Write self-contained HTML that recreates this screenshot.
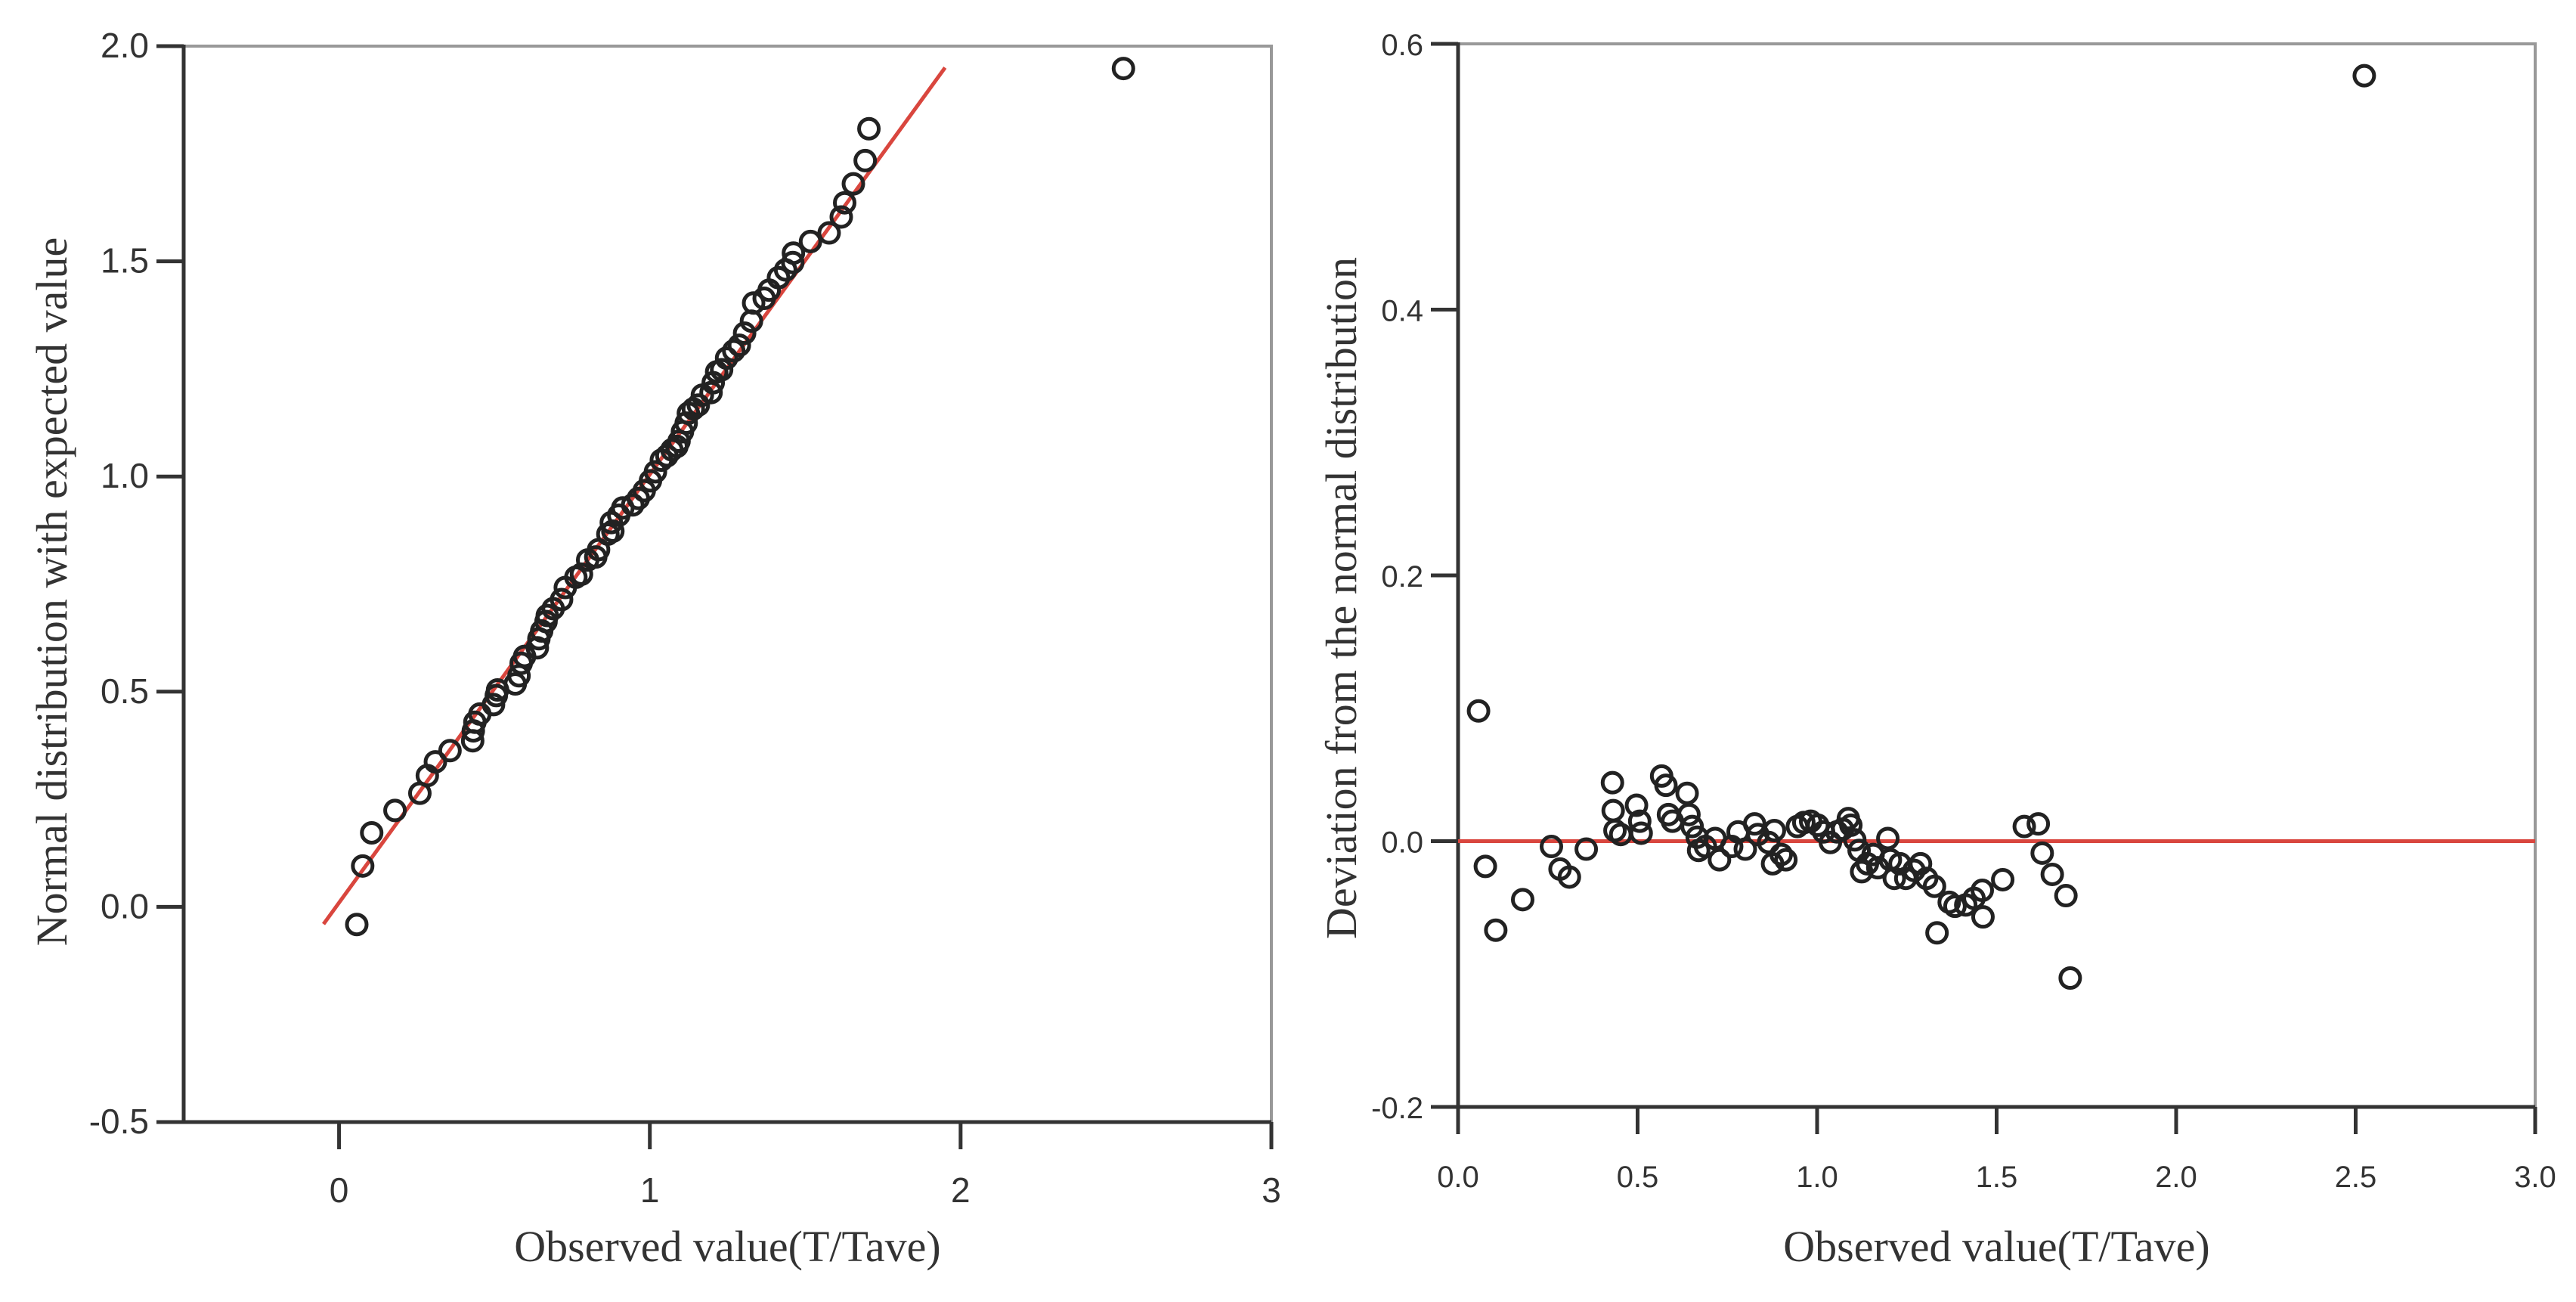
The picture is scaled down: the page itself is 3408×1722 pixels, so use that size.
<!DOCTYPE html>
<html><head><meta charset="utf-8"><style>
html,body{margin:0;padding:0;background:#fff;}
svg{display:block;}
</style></head><body>
<svg id="chart" width="3408" height="1722" viewBox="0 0 3408 1722" xmlns="http://www.w3.org/2000/svg">
<g id="left"></g>
<g id="right"></g>
</svg>
<script>
const observed = [0.057,0.076,0.105,0.18,0.26,0.284,0.31,0.357,0.43,0.432,0.437,0.453,0.497,0.506,0.51,0.567,0.579,0.586,0.597,0.638,0.643,0.652,0.666,0.67,0.689,0.716,0.728,0.762,0.78,0.8,0.826,0.835,0.865,0.876,0.881,0.9,0.913,0.945,0.963,0.982,1.002,1.018,1.037,1.055,1.071,1.087,1.094,1.105,1.117,1.124,1.14,1.156,1.169,1.197,1.204,1.215,1.231,1.247,1.27,1.288,1.305,1.327,1.334,1.368,1.384,1.414,1.437,1.46,1.462,1.517,1.577,1.616,1.627,1.655,1.693,1.705,2.524];
const expected = [-0.041,0.095,0.172,0.224,0.264,0.305,0.337,0.363,0.386,0.409,0.429,0.448,0.470,0.491,0.504,0.518,0.537,0.566,0.582,0.602,0.623,0.641,0.663,0.677,0.693,0.714,0.742,0.766,0.773,0.806,0.813,0.830,0.866,0.893,0.873,0.910,0.927,0.934,0.949,0.967,0.990,1.011,1.038,1.048,1.062,1.070,1.082,1.104,1.124,1.147,1.157,1.166,1.189,1.195,1.218,1.243,1.248,1.275,1.292,1.305,1.333,1.361,1.403,1.414,1.433,1.462,1.480,1.497,1.519,1.546,1.566,1.603,1.636,1.680,1.734,1.808,1.948];
const deviation = [0.098,-0.019,-0.067,-0.044,-0.004,-0.021,-0.027,-0.006,0.044,0.023,0.008,0.005,0.027,0.015,0.006,0.049,0.042,0.02,0.015,0.036,0.02,0.011,0.003,-0.007,-0.004,0.002,-0.014,-0.004,0.007,-0.006,0.013,0.005,-0.001,-0.017,0.008,-0.01,-0.014,0.011,0.014,0.015,0.012,0.007,-0.001,0.007,0.009,0.017,0.012,0.001,-0.007,-0.023,-0.017,-0.01,-0.02,0.002,-0.014,-0.028,-0.017,-0.028,-0.022,-0.017,-0.028,-0.034,-0.069,-0.046,-0.049,-0.048,-0.043,-0.037,-0.057,-0.029,0.011,0.013,-0.009,-0.025,-0.041,-0.103,0.576];
const leftXTicks = [0,1,2,3];
const leftXTickLabels = ["0","1","2","3"];
const leftYTicks = [-0.5,0,0.5,1,1.5,2];
const leftYTickLabels = ["-0.5","0.0","0.5","1.0","1.5","2.0"];
const rightXTicks = [0,0.5,1,1.5,2,2.5,3];
const rightXTickLabels = ["0.0","0.5","1.0","1.5","2.0","2.5","3.0"];
const rightYTicks = [-0.2,0,0.2,0.4,0.6];
const rightYTickLabels = ["-0.2","0.0","0.2","0.4","0.6"];
const refLineLeft = [[-0.05,-0.04],[1.95,1.95]];
const refLineRight = [[0,0],[3,0]];

const NS = "http://www.w3.org/2000/svg";
function mk(parent, tag, attrs, text){
  const e = document.createElementNS(NS, tag);
  for (const k in attrs) e.setAttribute(k, attrs[k]);
  if (text !== undefined) e.textContent = text;
  parent.appendChild(e);
  return e;
}
function lin(d0,d1,r0,r1){return v => r0 + (v-d0)/(d1-d0)*(r1-r0);}

function drawPanel(g, cfg){
  const X = lin(cfg.xd[0],cfg.xd[1],cfg.L,cfg.R);
  const Y = lin(cfg.yd[0],cfg.yd[1],cfg.B,cfg.T);
  let f = mk(g,'polyline',{points:`${cfg.L},${cfg.T} ${cfg.R},${cfg.T} ${cfg.R},${cfg.B}`,fill:'none',stroke:'#999',"stroke-width":4});
  
  
  let ya = mk(g,'line',{x1:cfg.L,y1:cfg.T-2,x2:cfg.L,y2:cfg.B+2,stroke:'#333',"stroke-width":5});
  
  
  let xa = mk(g,'line',{x1:cfg.L,y1:cfg.B,x2:cfg.R,y2:cfg.B,stroke:'#333',"stroke-width":5});
  
  
  cfg.yt.forEach((v,i)=>{
    const y=Y(v);
    let t=mk(g,'line',{x1:cfg.L-36,y1:y,x2:cfg.L,y2:y,stroke:'#333',"stroke-width":5});
    
    
    let l=mk(g,'text',{x:cfg.L-46,y:y+15,"text-anchor":"end","font-family":cfg.tickFont,"font-size":cfg.tickSize,fill:'#333'},cfg.ytl[i]);
    
    
  });
  cfg.xt.forEach((v,i)=>{
    const x=X(v);
    let t=mk(g,'line',{x1:x,y1:cfg.B,x2:x,y2:cfg.B+36,stroke:'#333',"stroke-width":5});
    
    
    let l=mk(g,'text',{x:x,y:cfg.B+106,"text-anchor":"middle","font-family":cfg.tickFont,"font-size":cfg.tickSize,fill:'#333'},cfg.xtl[i]);
    
    
  });
  let xt=mk(g,'text',{x:(cfg.L+cfg.R)/2,y:1668,"text-anchor":"middle","font-family":"Liberation Serif, serif","font-size":58,fill:'#333'},"Observed value(T/Tave)");
  
  
  const cy=(cfg.T+cfg.B)/2+cfg.ytOff;
  let yt=mk(g,'text',{x:cfg.ytx,y:cy,"text-anchor":"middle","font-family":"Liberation Serif, serif","font-size":58,fill:'#333',transform:`rotate(-90 ${cfg.ytx} ${cy})`},cfg.ytitle);
  
  
  const rl=cfg.ref;
  let r=mk(g,'line',{x1:X(rl[0][0]),y1:Y(rl[0][1]),x2:X(rl[1][0]),y2:Y(rl[1][1]),stroke:'#d9463e',"stroke-width":5});
  
  
  cfg.xs.forEach((v,i)=>{
    let c=mk(g,'circle',{cx:X(v),cy:Y(cfg.ys[i]),r:13,fill:'none',stroke:'#222',"stroke-width":5});
    
    
  });
}
drawPanel(document.getElementById('left'),{L:243,R:1682,T:61,B:1484,xd:[-0.5,3],yd:[-0.5,2],
  xt:leftXTicks,xtl:leftXTickLabels,yt:leftYTicks,ytl:leftYTickLabels,tickFont:"Liberation Sans Narrow, Liberation Sans, sans-serif",tickSize:46,
  ytitle:"Normal distribution with expected value",ytx:88,ytOff:10,ref:refLineLeft,xs:observed,ys:expected});
drawPanel(document.getElementById('right'),{L:1929,R:3354,T:58,B:1464,xd:[0,3],yd:[-0.2,0.6],
  xt:rightXTicks,xtl:rightXTickLabels,yt:rightYTicks,ytl:rightYTickLabels,tickFont:"Liberation Sans, sans-serif",tickSize:40,
  ytitle:"Deviation from the normal distribution",ytx:1794,ytOff:30,ref:refLineRight,xs:observed,ys:deviation});
</script>
</body></html>
